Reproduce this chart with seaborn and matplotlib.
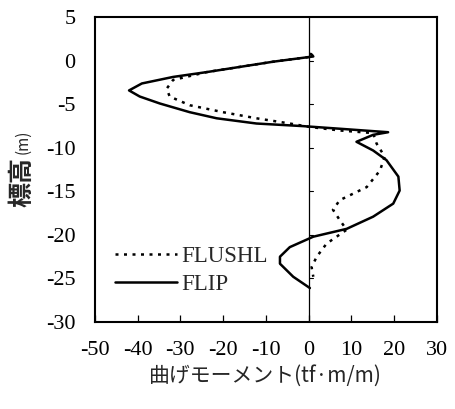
import numpy as np
import pandas as pd
import matplotlib
matplotlib.use("Agg")
import matplotlib.pyplot as plt
from matplotlib.lines import Line2D
import seaborn as sns

# Bending moment (tf·m/m) versus elevation (m)
flip_moment = [0.5, 1.1, -8.3, -16.1, -23.9, -31.7, -39.0, -42.0, -39.5, -34.8, -27.8,
               -21.5, -12.2, -1.3, 7.3, 18.6, 15.1, 11.2, 15.1, 18.2, 21.0, 21.3,
               19.8, 15.1, 8.9, 1.1, -4.4, -6.7, -6.7, -3.6, 0.3]
flip_elev = [0.8, 0.5, -0.1, -0.7, -1.3, -1.85, -2.6, -3.4, -4.1, -4.9, -5.9,
             -6.6, -7.2, -7.5, -7.8, -8.2, -8.5, -9.3, -10.3, -11.4, -13.3, -14.9,
             -16.4, -17.9, -19.3, -20.2, -21.4, -22.5, -23.3, -24.8, -26.1]

flushl_moment = [0.5, 1.1, -8.3, -16.1, -23.9, -31.7, -33.2, -32.5, -27.8, -20.0,
                 -12.2, -4.4, 0.3, 7.3, 15.1, 15.9, 17.8, 16.7, 13.6, 7.3, 5.7,
                 7.3, 8.9, 4.2, 1.9, 0.7, 1.1]
flushl_elev = [0.8, 0.5, -0.1, -0.7, -1.3, -2.2, -3.2, -4.1, -5.1, -5.9,
               -6.6, -7.2, -7.6, -8.0, -8.3, -9.5, -11.0, -12.6, -14.5, -16.0, -17.1,
               -18.3, -19.4, -21.0, -22.5, -23.7, -24.8]

x_ticks = [-50, -40, -30, -20, -10, 0, 10, 20, 30]
y_ticks = [5, 0, -5, -10, -15, -20, -25, -30]
models = ["FLUSHL", "FLIP"]

sns.set_theme(style="white")
plt.rcParams["font.family"] = ["Liberation Serif", "Noto Sans CJK JP"]

df = pd.concat([
    pd.DataFrame({"moment": flushl_moment, "elev": flushl_elev, "model": models[0]}),
    pd.DataFrame({"moment": flip_moment, "elev": flip_elev, "model": models[1]}),
])

fig = plt.figure(figsize=(4.56, 4.09), dpi=100)
ax = fig.add_axes([0.208, 0.2127, 0.75, 0.745])

dotted = (1.2, 2.2)
sns.lineplot(data=df, x="moment", y="elev", hue="model", style="model",
             sort=False, estimator=None, palette=["black", "black"],
             dashes={"FLUSHL": dotted, "FLIP": ""}, ax=ax, legend=False)
for line in ax.lines:
    line.set_linewidth(1.8)

# zero line with its own small ticks
ax.axvline(0, color="black", lw=0.9)
for yv in [0, -5, -10, -15, -20, -25]:
    ax.plot([0, 1.0], [yv, yv], color="black", lw=0.8)

ax.set_xlim(-50, 30)
ax.set_ylim(-30, 5)
ax.set_xticks(x_ticks)
ax.set_yticks(y_ticks)
ax.set_xticklabels([str(v) for v in x_ticks])
ax.set_yticklabels([str(v) for v in y_ticks])
ax.tick_params(axis="x", direction="in", length=5, width=0.9, pad=14,
               labelsize=16, bottom=True, colors="black")
ax.tick_params(axis="y", direction="in", length=0, pad=14, labelsize=16,
               left=True, colors="black")
for s in ax.spines.values():
    s.set_color("black")
    s.set_linewidth(1.5)

ax.set_xlabel("曲げモーメント(tf·m/m)", fontsize=15, labelpad=3,
              family=["Noto Sans CJK JP", "DejaVu Sans"])
ax.set_ylabel("")

# vertical axis title: bold characters with a small unit
fig.text(22 / 456, 1 - 182 / 409, "標高", rotation=90, ha="center", va="center",
         fontsize=18, fontweight="bold", family=["Noto Sans CJK JP"])
fig.text(23 / 456, 1 - 142 / 409, "(m)", rotation=90, ha="center", va="center",
         fontsize=11, family=["Noto Sans CJK JP"])

handles = [Line2D([], [], color="black", lw=1.8, dashes=dotted),
           Line2D([], [], color="black", lw=1.8)]
ax.legend(handles, models, loc="upper left", bbox_to_anchor=(0.058, 0.248),
          frameon=False, fontsize=16.5, handlelength=2.7, handletextpad=0.2,
          labelspacing=0.28, borderpad=0, borderaxespad=0)

fig.savefig("out.png", dpi=100)
